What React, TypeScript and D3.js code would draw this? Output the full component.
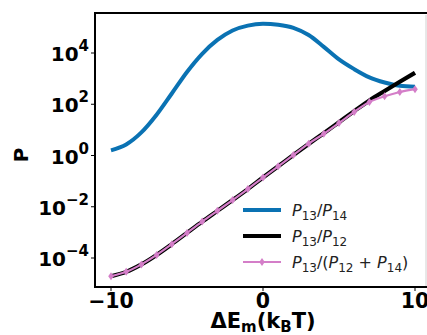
import * as d3 from "d3";

// ΔE_m values (k_B T)
const xs = [-10, -9, -8, -7, -6, -5, -4, -3, -2, -1, 0, 1, 2, 3, 4, 5, 6, 7, 8, 9, 10];
// log10 of the ratios
const r1314 = [0.2, 0.43, 0.9, 1.59, 2.42, 3.26, 3.97, 4.51, 4.88, 5.07, 5.14, 5.1, 4.98, 4.7, 4.24, 3.75, 3.37, 3.05, 2.85, 2.72, 2.68];
const r1312 = [-4.71, -4.54, -4.25, -3.88, -3.46, -3.02, -2.58, -2.16, -1.74, -1.31, -0.86, -0.42, 0.02, 0.45, 0.87, 1.3, 1.73, 2.15, 2.52, 2.88, 3.23];
const rMix = [-4.71, -4.54, -4.25, -3.88, -3.46, -3.02, -2.58, -2.16, -1.74, -1.31, -0.86, -0.42, 0.02, 0.46, 0.85, 1.27, 1.7, 2.09, 2.31, 2.48, 2.59];
const xTicks = [-10, 0, 10];
const yExps = [-4, -2, 0, 2, 4];

const W = 427, H = 335;
const left = 95, top = 13, bottom = 287, right = 440;

export default function App() {
  const x = d3.scaleLinear().domain([-10, 10]).range([111, 415]);
  const y = d3.scaleLog().domain([1e-4, 1e4]).range([258, 53]);
  const line = d3.line<number[]>().x(d => x(d[0])).y(d => y(Math.pow(10, d[1]))).curve(d3.curveMonotoneX);
  const pts = (v: number[]) => xs.map((xx, i) => [xx, v[i]]);
  const blue = "#0a72b3", black = "#000000", pink = "#d47ec8";
  const tf = "'DejaVu Sans', sans-serif";
  const diamond = "M0,-4L2.8,0L0,4L-2.8,0Z";
  const legend = [
    { c: blue, w: 4, den: "14", mix: false },
    { c: black, w: 4, den: "12", mix: false },
    { c: pink, w: 2, den: "", mix: true },
  ];
  return (
    <svg width={W} height={H} style={{ position: "absolute", left: 0, top: 0, background: "#fff" }} fontFamily={tf}>
      <defs>
        <clipPath id="cp"><rect x={left} y={top} width={right - left} height={bottom - top} /></clipPath>
      </defs>
      <g clipPath="url(#cp)">
        <path d={line(pts(r1314)) || ""} fill="none" stroke={blue} strokeWidth={4} />
        <path d={line(pts(r1312)) || ""} fill="none" stroke={black} strokeWidth={4.2} />
        <path d={line(pts(rMix)) || ""} fill="none" stroke={pink} strokeWidth={2.2} />
        {xs.map((xx, i) => (
          <path key={i} d={diamond} fill={pink}
            transform={`translate(${x(xx)},${y(Math.pow(10, rMix[i]))})`} />
        ))}
      </g>
      <line x1={426} x2={426} y1={top + 2} y2={bottom} stroke="#d0d0d0" strokeWidth={1} />
      <rect x={left} y={top} width={right - left} height={bottom - top} fill="none" stroke="#000" strokeWidth={2} />
      {xTicks.map(t => (
        <g key={t}>
          <line x1={x(t)} x2={x(t)} y1={bottom} y2={bottom + 4} stroke="#000" strokeWidth={1} />
          <text x={x(t)} y={bottom + 21} textAnchor="middle" fontSize={20.5} fontWeight="bold">{t < 0 ? "\u2212" + Math.abs(t) : t}</text>
        </g>
      ))}
      {yExps.map(e => (
        <g key={e}>
          <line x1={left - 4} x2={left} y1={y(Math.pow(10, e))} y2={y(Math.pow(10, e))} stroke="#000" strokeWidth={1} />
          <text x={left - 6} y={y(Math.pow(10, e)) + 8} textAnchor="end" fontSize={20} fontWeight="bold">
            10<tspan dy={-10} fontSize={15}>{e < 0 ? "\u2212" + Math.abs(e) : e}</tspan>
          </text>
        </g>
      ))}
      <text transform="translate(28,155) rotate(-90)" textAnchor="middle" fontSize={20} fontWeight="bold">P</text>
      <text x={263} y={328} textAnchor="middle" fontSize={21} fontWeight="bold">
        ΔE<tspan dy={4} fontSize={15}>m</tspan><tspan dy={-4}>(k</tspan><tspan dy={4} fontSize={15}>B</tspan><tspan dy={-4}>T)</tspan>
      </text>
      {legend.map((l, i) => {
        const ly = 210 + i * 26;
        return (
          <g key={i}>
            <line x1={243} x2={281} y1={ly} y2={ly} stroke={l.c} strokeWidth={l.w} />
            {l.mix && <path d={diamond} fill={l.c} transform={`translate(262,${ly})`} />}
            <text x={292} y={ly + 6} fontSize={16} fill="#222">
              <tspan fontStyle="italic">P</tspan><tspan dy={4} fontSize={12}>13</tspan>
              <tspan dy={-4}>/</tspan>
              {l.mix ? (
                <>
                  <tspan>(</tspan><tspan fontStyle="italic">P</tspan><tspan dy={4} fontSize={12}>12</tspan>
                  <tspan dy={-4}> + </tspan><tspan fontStyle="italic">P</tspan><tspan dy={4} fontSize={12}>14</tspan>
                  <tspan dy={-4}>)</tspan>
                </>
              ) : (
                <tspan fontStyle="italic">P</tspan>
              )}
              {!l.mix && <tspan dy={4} fontSize={12}>{l.den}</tspan>}
            </text>
          </g>
        );
      })}
    </svg>
  );
}
